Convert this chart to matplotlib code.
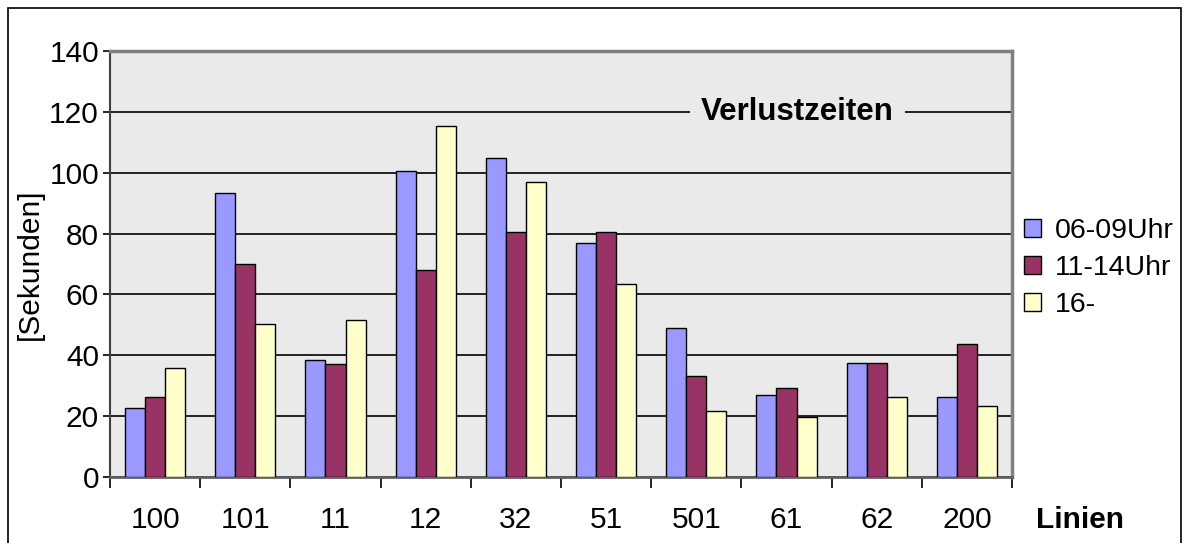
import matplotlib.pyplot as plt
import numpy as np
from matplotlib.patches import Rectangle

plt.rcParams['font.family'] = ['Liberation Sans', 'DejaVu Sans']

linien = ['100', '101', '11', '12', '32', '51', '501', '61', '62', '200']
morgens = [22.8, 93.2, 38.3, 100.7, 105.0, 76.8, 49.1, 26.8, 37.6, 26.3]
mittags = [26.3, 70.1, 37.3, 67.9, 80.4, 80.6, 33.3, 29.4, 37.6, 43.6]
abends = [35.8, 50.2, 51.7, 115.2, 97.0, 63.5, 21.8, 19.7, 26.3, 23.2]
serien = ['06-09Uhr', '11-14Uhr', '16-']
farben = ['#9999FF', '#993366', '#FFFFCC']

fig = plt.figure(figsize=(11.86, 5.43), dpi=100)
# aeusserer Rahmen
fig.patches.append(Rectangle((8/1186, -0.01), 1173/1186, 1 - 8/543 + 0.01,
                             transform=fig.transFigure, fill=False,
                             edgecolor='black', lw=1.2))

ax = fig.add_axes([110/1186, 1 - 477/543, 902/1186, 426/543])
ax.set_facecolor('#EAEAEA')

x = np.arange(len(linien))
w = 1/4.5
for i, (werte, name, c) in enumerate(zip([morgens, mittags, abends], serien, farben)):
    ax.bar(x + (i - 1)*w, werte, w, color=c, edgecolor='black', lw=1,
           label=name, zorder=3)

ax.set_xlim(-0.5, 9.5)
ax.set_ylim(0, 140)
ax.set_yticks(range(0, 141, 20))
ax.tick_params(axis='y', labelsize=21.5, length=5, width=1.2, pad=3)
ax.yaxis.grid(True, color='black', lw=1.2, zorder=1)
ax.set_axisbelow(True)

ax.set_xticks(np.arange(-0.5, 10, 1))
ax.set_xticklabels([])
ax.set_xticks(x, minor=True)
ax.set_xticklabels(linien, minor=True)
ax.tick_params(axis='x', which='major', length=8, width=1.2, direction='out')
ax.tick_params(axis='x', which='minor', length=0, labelsize=21.5, pad=21)

for s in ['top', 'right']:
    ax.spines[s].set_color('#808080')
    ax.spines[s].set_linewidth(2.5)
ax.spines['left'].set_color('#404040')
ax.spines['left'].set_linewidth(1.5)
ax.spines['bottom'].set_color('#606060')
ax.spines['bottom'].set_linewidth(2)

ax.set_ylabel('[Sekunden]', fontsize=21.5, labelpad=4)

ax.text(0.762, 0.857, 'Verlustzeiten', transform=ax.transAxes, fontsize=22.5,
        fontweight='bold', ha='center', va='center', zorder=5,
        bbox=dict(facecolor='#EAEAEA', edgecolor='none', pad=8))

fig.text(1080/1186, 1 - 520/543, 'Linien', fontsize=21.5, fontweight='bold',
         ha='center', va='center')

fig.legend(loc='upper left', bbox_to_anchor=(1024/1186, 1 - 218/543),
           frameon=False, fontsize=20.5, handlelength=0.6, handleheight=0.6,
           handletextpad=0.5, labelspacing=0.38, borderaxespad=0, borderpad=0)

fig.savefig('out.png', dpi=100)
